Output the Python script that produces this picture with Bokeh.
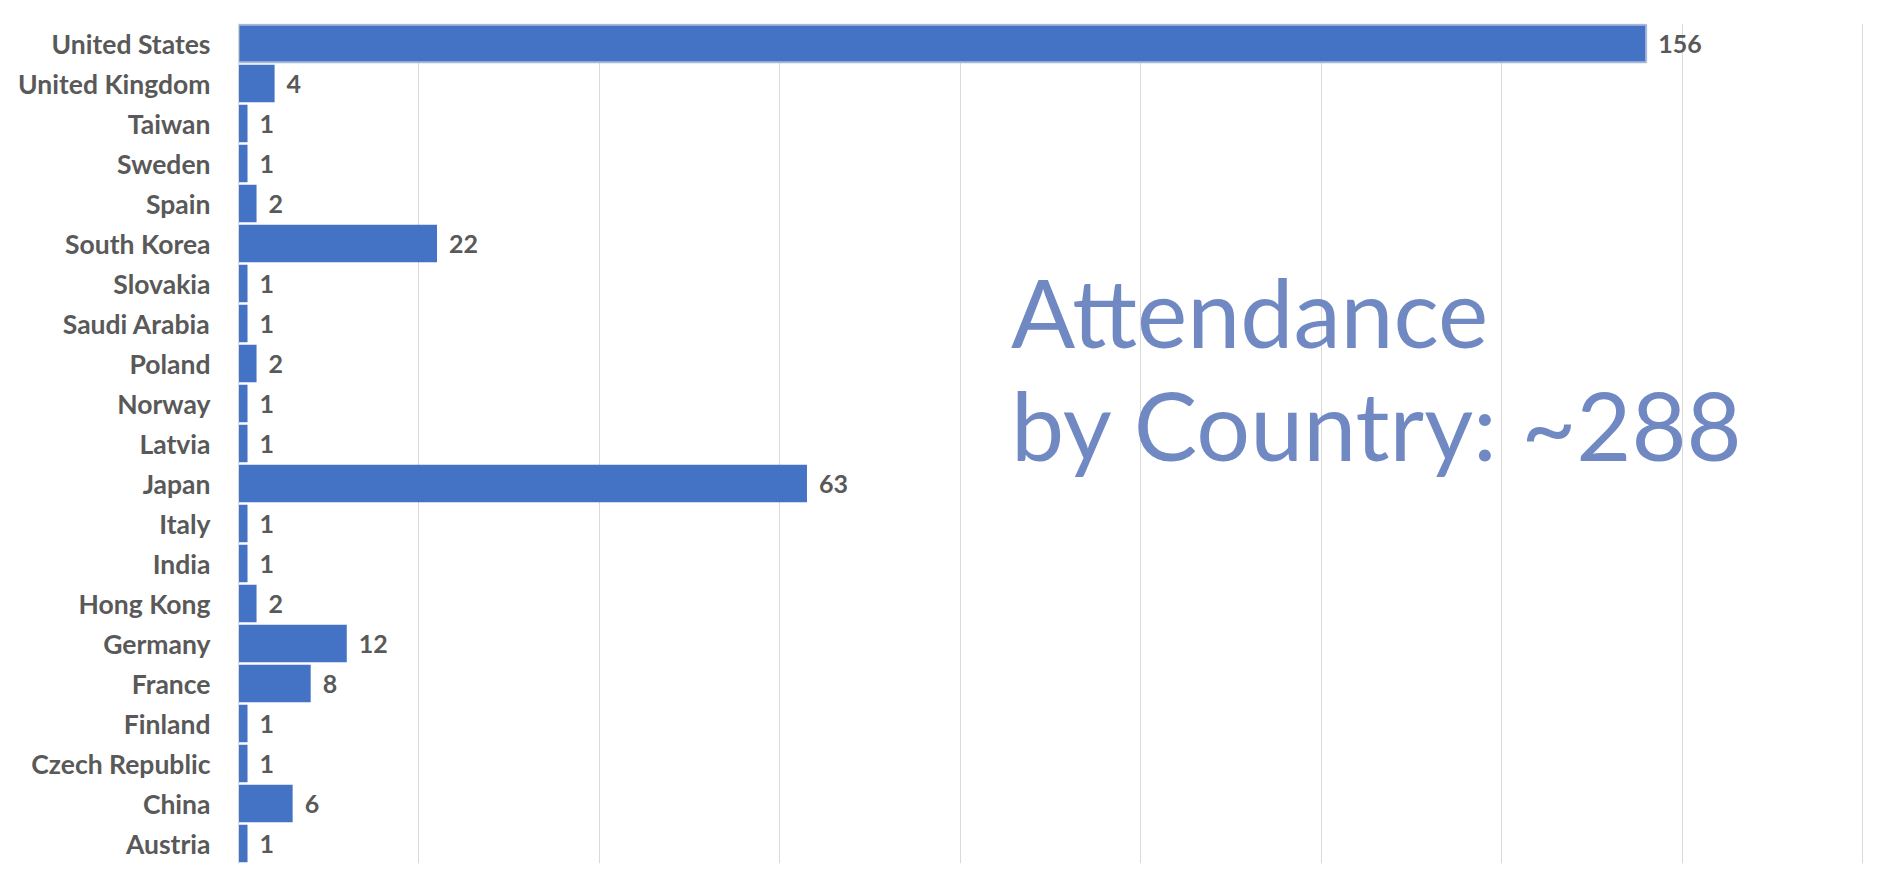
from bokeh.plotting import figure
from bokeh.models import ColumnDataSource, FactorRange, Range1d, Label
from bokeh.core.properties import value
from bokeh.embed import file_html
from bokeh.resources import INLINE

# Data (listed bottom-to-top, as drawn)
countries = ["Austria", "China", "Czech Republic", "Finland", "France", "Germany",
             "Hong Kong", "India", "Italy", "Japan", "Latvia", "Norway", "Poland",
             "Saudi Arabia", "Slovakia", "South Korea", "Spain", "Sweden", "Taiwan",
             "United Kingdom", "United States"]
attendance = [1, 6, 1, 1, 8, 12, 2, 1, 1, 63, 1, 1, 2, 1, 1, 22, 2, 1, 1, 4, 156]
title_lines = ["Attendance", "by Country: ~288"]

outline_alpha = [1.0 if c == "United States" else 0.0 for c in countries]

source = ColumnDataSource(dict(
    country=countries,
    value=attendance,
    label=[str(v) for v in attendance],
    oalpha=outline_alpha,
))

FONT = "Lato"
LABEL_COLOR = "#595959"

p = figure(
    width=1866, height=872,
    y_range=FactorRange(factors=countries, range_padding=0),
    x_range=Range1d(0, 180.2),
    output_backend="svg", toolbar_location=None,
    min_border_left=238, min_border_right=2, min_border_top=23, min_border_bottom=9,
)
p.outline_line_color = None
p.background_fill_color = "white"
p.border_fill_color = "white"

p.hbar(y="country", right="value", left=0, height=0.94, source=source,
       fill_color="#4472C4", line_color="#A8B7DB", line_alpha="oalpha", line_width=2)

p.text(x="value", y="country", text="label", source=source,
       x_offset=12, text_baseline="middle", text_align="left",
       text_font=value(FONT), text_font_style="bold", text_font_size="25px",
       text_color=LABEL_COLOR)

# Axes
p.xaxis.visible = False
p.xgrid.grid_line_color = "#D9D9D9"
p.xgrid.grid_line_width = 1
p.xgrid.ticker = list(range(0, 181, 20))
p.ygrid.grid_line_color = None

ya = p.yaxis[0]
ya.axis_line_color = "#D9D9D9"
ya.axis_line_width = 1
ya.major_tick_line_color = None
ya.minor_tick_line_color = None
ya.major_tick_out = 0
ya.major_tick_in = 0
ya.major_label_standoff = 28
ya.major_label_text_font = FONT
ya.major_label_text_font_style = "bold"
ya.major_label_text_font_size = "26.5px"
ya.major_label_text_color = LABEL_COLOR

# Overlay title text
TITLE_COLOR = "#7189C3"
for txt, yy in zip(title_lines, [13.82, 10.98]):
    p.add_layout(Label(x=85.6, y=yy, text=txt, text_font=FONT, text_font_size="95px",
                       text_color=TITLE_COLOR, text_baseline="alphabetic",
                       text_align="left"))

open("out.html", "w").write(file_html(p, INLINE))
